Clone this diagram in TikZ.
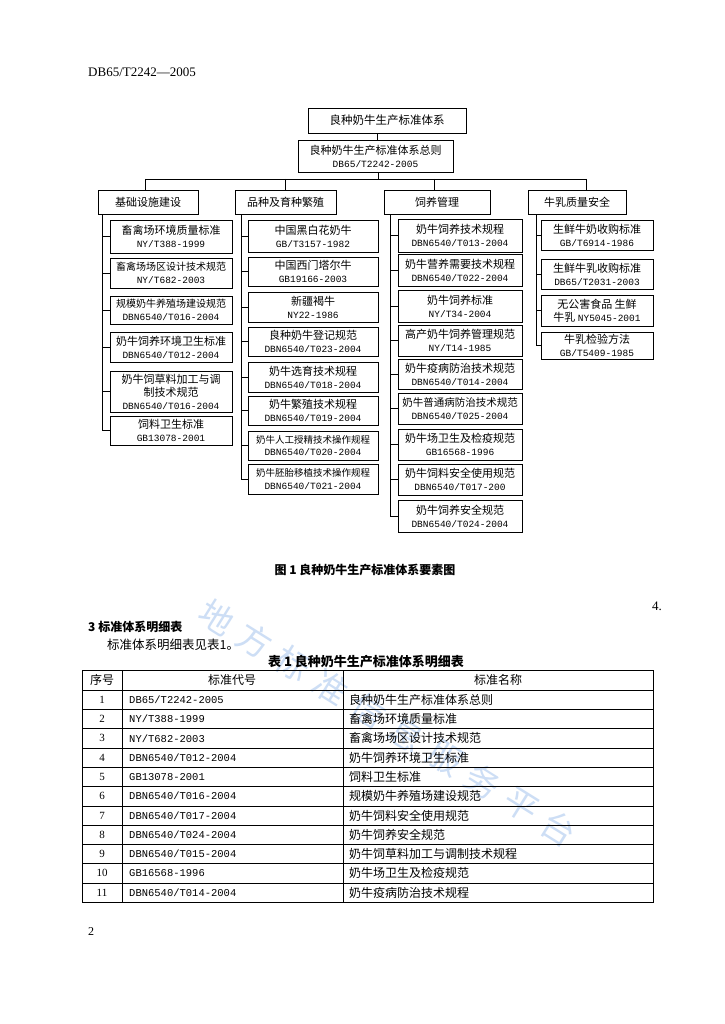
\documentclass[tikz,border=0pt]{standalone}
\usepackage{fontspec}
\setmainfont{Liberation Serif}
\newfontfamily\cjk{Noto Sans CJK SC}
\newfontfamily\code{Liberation Mono}
\definecolor{wmblue}{RGB}{205,222,245}
\newcommand\cd[1]{{\code\fontsize{9.5}{12}\selectfont #1}}
\newcommand\trow[3]{%
  \node[tnum] (n#1) at (102,{690+19.3*(#1-0.5)}) {#1};
  \node[tcode] (k#1) at (129,{690+19.3*(#1-0.5)}) {#2};
  \node[tname] (m#1) at (349,{690+19.3*(#1-0.5)}) {#3};}
\begin{document}
\begin{tikzpicture}[x=1pt,y=-1pt,
  box/.style={draw,line width=0.7pt,inner sep=1pt,align=center,
    font=\cjk\fontsize{11}{13}\selectfont},
  link/.style={line width=0.7pt},
  tline/.style={line width=0.6pt},
  tnum/.style={inner sep=0pt,font=\fontsize{11}{13}\selectfont},
  tcode/.style={anchor=west,inner sep=0pt,font=\code\fontsize{10.5}{13}\selectfont},
  tname/.style={anchor=west,inner sep=0pt,font=\cjk\fontsize{12}{14}\selectfont},
  wm/.style={inner sep=0pt,text=wmblue,rotate=-32,font=\cjk\fontsize{34}{38}\selectfont}]
\useasboundingbox[fill=white] (0,0) rectangle (724,1024);

% watermark
\foreach \ch [count=\i from 0] in {地,方,标,准,信,息,服,务,平,台}
  \node[wm] (w\i) at ({217+38*\i},{617+23.5*\i}) {\ch};

% header
\node[anchor=west,inner sep=0pt,font=\fontsize{13}{15}\selectfont] (hdr) at (88,72) {DB65/T2242—2005};

% top
\node[box,minimum width=158,minimum height=25,font=\cjk\fontsize{11.5}{13}\selectfont] (T) at (387,120.5) {良种奶牛生产标准体系};
\node[box,minimum width=155,minimum height=32] (S) at (375.5,156) {良种奶牛生产标准体系总则\\\cd{DB65/T2242-2005}};
\draw[link] (T.south -| 377,0) -- (S.north -| 377,0);

% categories
\node[box,minimum width=100,minimum height=24] (C1) at (148,202) {基础设施建设};
\node[box,minimum width=101,minimum height=24] (C2) at (285.5,202) {品种及育种繁殖};
\node[box,minimum width=106,minimum height=24] (C3) at (437,202) {饲养管理};
\node[box,minimum width=98,minimum height=24] (C4) at (577,202) {牛乳质量安全};
\coordinate (b1) at (145,179);
\coordinate (b2) at (285,179);
\coordinate (b3) at (434,179);
\coordinate (b4) at (586,179);
\draw[link] (b1) -- (b4);
\draw[link] (S.south -| 378,0) -- (b1 -| 378,0);
\draw[link] (b1) -- (C1.north -| b1);
\draw[link] (b2) -- (C2.north -| b2);
\draw[link] (b3) -- (C3.north -| b3);
\draw[link] (b4) -- (C4.north -| b4);

% column 1
\node[box,minimum width=122,minimum height=33] (a1) at (171,236.5) {畜禽场环境质量标准\\\cd{NY/T388-1999}};
\node[box,minimum width=122,minimum height=30,font=\cjk\fontsize{10}{12.5}\selectfont] (a2) at (171,273) {畜禽场场区设计技术规范\\\cd{NY/T682-2003}};
\node[box,minimum width=122,minimum height=28,font=\cjk\fontsize{10}{12.5}\selectfont] (a3) at (171,310) {规模奶牛养殖场建设规范\\\cd{DBN6540/T016-2004}};
\node[box,minimum width=122,minimum height=30] (a4) at (171,347) {奶牛饲养环境卫生标准\\\cd{DBN6540/T012-2004}};
\node[box,minimum width=122,minimum height=41] (a5) at (171,391.5) {奶牛饲草料加工与调\\制技术规范\\\cd{DBN6540/T016-2004}};
\node[box,minimum width=122,minimum height=29] (a6) at (171,430.5) {饲料卫生标准\\\cd{GB13078-2001}};
\coordinate (t1) at (102,0);
\draw[link] (C1.south -| t1) |- (a6.west);
\foreach \k in {1,...,5} \draw[link] (a\k.west -| t1) -- (a\k.west);

% column 2
\node[box,minimum width=130,minimum height=32] (p1) at (313,236) {中国黑白花奶牛\\\cd{GB/T3157-1982}};
\node[box,minimum width=130,minimum height=29] (p2) at (313,271.5) {中国西门塔尔牛\\\cd{GB19166-2003}};
\node[box,minimum width=130,minimum height=30] (p3) at (313,307) {新疆褐牛\\\cd{NY22-1986}};
\node[box,minimum width=130,minimum height=29] (p4) at (313,341.5) {良种奶牛登记规范\\\cd{DBN6540/T023-2004}};
\node[box,minimum width=130,minimum height=30] (p5) at (313,377) {奶牛选育技术规程\\\cd{DBN6540/T018-2004}};
\node[box,minimum width=130,minimum height=29] (p6) at (313,410.5) {奶牛繁殖技术规程\\\cd{DBN6540/T019-2004}};
\node[box,minimum width=130,minimum height=29,font=\cjk\fontsize{9.5}{12.5}\selectfont] (p7) at (313,445.5) {奶牛人工授精技术操作规程\\\cd{DBN6540/T020-2004}};
\node[box,minimum width=130,minimum height=30,font=\cjk\fontsize{9.5}{12.5}\selectfont] (p8) at (313,479) {奶牛胚胎移植技术操作规程\\\cd{DBN6540/T021-2004}};
\coordinate (t2) at (241,0);
\draw[link] (C2.south -| t2) |- (p8.west);
\foreach \k in {1,...,7} \draw[link] (p\k.west -| t2) -- (p\k.west);

% column 3
\node[box,minimum width=124,minimum height=33] (f1) at (460,235.5) {奶牛饲养技术规程\\\cd{DBN6540/T013-2004}};
\node[box,minimum width=124,minimum height=32] (f2) at (460,270) {奶牛营养需要技术规程\\\cd{DBN6540/T022-2004}};
\node[box,minimum width=124,minimum height=32] (f3) at (460,306) {奶牛饲养标准\\\cd{NY/T34-2004}};
\node[box,minimum width=124,minimum height=31] (f4) at (460,340.5) {高产奶牛饲养管理规范\\\cd{NY/T14-1985}};
\node[box,minimum width=124,minimum height=30] (f5) at (460,374) {奶牛疫病防治技术规范\\\cd{DBN6540/T014-2004}};
\node[box,minimum width=124,minimum height=31,font=\cjk\fontsize{10.5}{12.5}\selectfont] (f6) at (460,408.5) {奶牛普通病防治技术规范\\\cd{DBN6540/T025-2004}};
\node[box,minimum width=124,minimum height=31] (f7) at (460,444.5) {奶牛场卫生及检疫规范\\\cd{GB16568-1996}};
\node[box,minimum width=124,minimum height=31] (f8) at (460,479.5) {奶牛饲料安全使用规范\\\cd{DBN6540/T017-200}};
\node[box,minimum width=124,minimum height=32] (f9) at (460,516) {奶牛饲养安全规范\\\cd{DBN6540/T024-2004}};
\coordinate (t3) at (390,0);
\draw[link] (C3.south -| t3) |- (f9.west);
\foreach \k in {1,...,8} \draw[link] (f\k.west -| t3) -- (f\k.west);

% column 4
\node[box,minimum width=112,minimum height=30] (q1) at (597,235) {生鲜牛奶收购标准\\\cd{GB/T6914-1986}};
\node[box,minimum width=112,minimum height=30] (q2) at (597,274) {生鲜牛乳收购标准\\\cd{DB65/T2031-2003}};
\node[box,minimum width=112,minimum height=31] (q3) at (597,310.5) {无公害食品\ 生鲜\\牛乳 \cd{NY5045-2001}};
\node[box,minimum width=112,minimum height=27] (q4) at (597,345.5) {牛乳检验方法\\\cd{GB/T5409-1985}};
\coordinate (t4) at (536,0);
\draw[link] (C4.south -| t4) |- (q4.west);
\foreach \k in {1,...,3} \draw[link] (q\k.west -| t4) -- (q\k.west);

% caption
\node[inner sep=0pt,font=\cjk\bfseries\fontsize{12}{14}\selectfont] (cap) at (365,570) {图 1\ 良种奶牛生产标准体系要素图};

% section text
\node[anchor=east,inner sep=0pt,font=\fontsize{13}{15}\selectfont] (four) at (662,606) {4.};
\node[anchor=west,inner sep=0pt,font=\cjk\bfseries\fontsize{12}{14}\selectfont] (sec) at (88,627) {3\ 标准体系明细表};
\node[anchor=west,inner sep=0pt,font=\cjk\fontsize{12.5}{14}\selectfont] (para) at (107,645) {标准体系明细表见表1。};
\node[inner sep=0pt,font=\cjk\bfseries\fontsize{13}{15}\selectfont] (tcap) at (366,662) {表 1 良种奶牛生产标准体系明细表};

% table
\draw[tline] (82,670) rectangle (653,902.3);
\draw[tline] (122,670) -- (122,902.3);
\draw[tline] (343,670) -- (343,902.3);
\draw[tline] (82,690) -- (653,690);
\foreach \r in {1,...,10} \draw[tline] (82,{690+19.3*\r}) -- (653,{690+19.3*\r});
\node[inner sep=0pt,font=\cjk\fontsize{12}{14}\selectfont] (h1) at (102,680) {序号};
\node[inner sep=0pt,font=\cjk\fontsize{12}{14}\selectfont] (h2) at (232,680) {标准代号};
\node[inner sep=0pt,font=\cjk\fontsize{12}{14}\selectfont] (h3) at (498,680) {标准名称};
\trow{1}{DB65/T2242-2005}{良种奶牛生产标准体系总则}
\trow{2}{NY/T388-1999}{畜禽场环境质量标准}
\trow{3}{NY/T682-2003}{畜禽场场区设计技术规范}
\trow{4}{DBN6540/T012-2004}{奶牛饲养环境卫生标准}
\trow{5}{GB13078-2001}{饲料卫生标准}
\trow{6}{DBN6540/T016-2004}{规模奶牛养殖场建设规范}
\trow{7}{DBN6540/T017-2004}{奶牛饲料安全使用规范}
\trow{8}{DBN6540/T024-2004}{奶牛饲养安全规范}
\trow{9}{DBN6540/T015-2004}{奶牛饲草料加工与调制技术规程}
\trow{10}{GB16568-1996}{奶牛场卫生及检疫规范}
\trow{11}{DBN6540/T014-2004}{奶牛疫病防治技术规程}

% page number
\node[anchor=west,inner sep=0pt,font=\fontsize{12}{14}\selectfont] (pg) at (88,932) {2};
\end{tikzpicture}
\end{document}
